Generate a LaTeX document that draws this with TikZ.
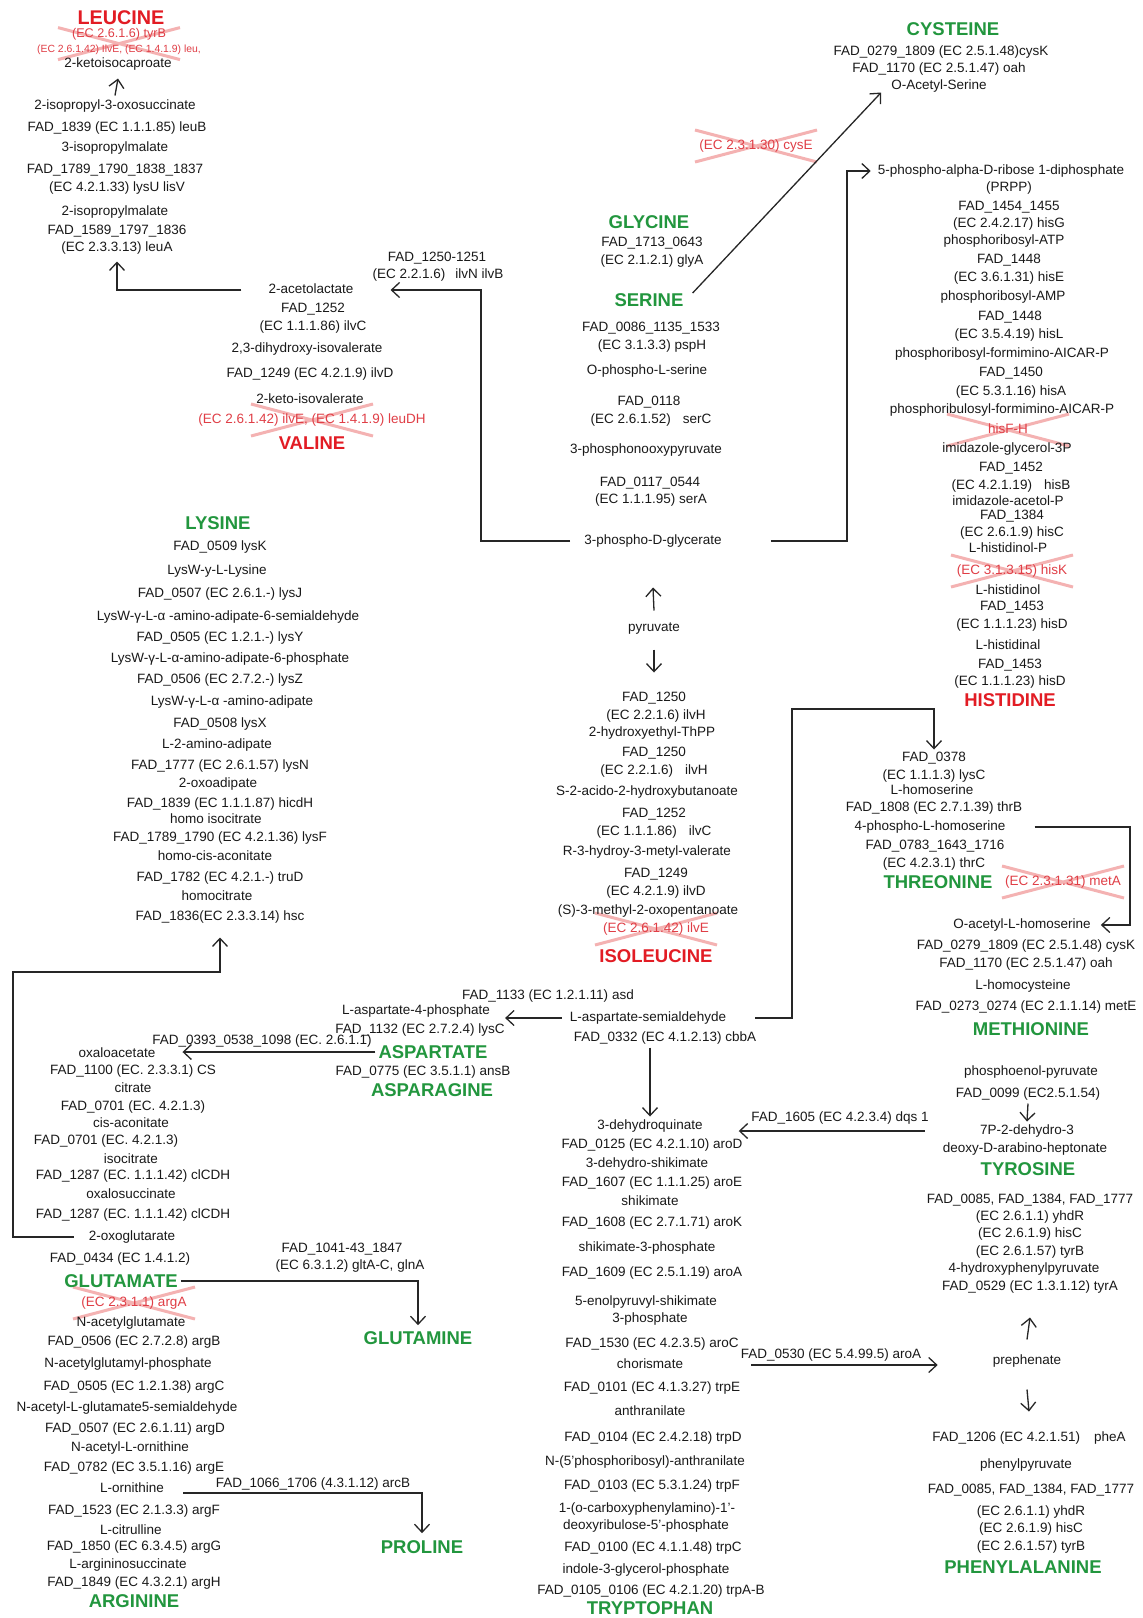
\documentclass[tikz,border=0pt]{standalone}
\usepackage{fontspec}
\setmainfont{Liberation Sans}
\usetikzlibrary{arrows.meta,backgrounds,calc}

\definecolor{aagreen}{RGB}{34,150,62}
\definecolor{aared}{RGB}{226,28,36}
\definecolor{ecred}{RGB}{224,62,70}
\definecolor{xpink}{RGB}{244,178,178}

\tikzset{
  lbl/.style={inner sep=0pt, text height=9.7pt, text depth=2.9pt,
    font=\fontsize{13.5}{15}\selectfont, text=black!90},
  aa/.style={inner sep=0pt, text height=13.3pt, text depth=0pt,
    font=\fontsize{18.5}{20}\selectfont\bfseries, text=aagreen},
  aalost/.style={aa, text=aared},
  eclost/.style={lbl, text=ecred},
  ecsmall/.style={eclost, text height=7.6pt, text depth=2.2pt,
    font=\fontsize{10.4}{12}\selectfont},
  arr/.style={-{Straight Barb[length=8pt,width=15pt]}, line width=1.3pt, black!85},
  xline/.style={xpink, line width=3pt}
}
% pink cross over a missing enzyme
\newcommand{\xout}[1]{\draw[xline] ([shift={(-61pt,-16pt)}]#1) -- ([shift={(61pt,16pt)}]#1)
  ([shift={(-61pt,16pt)}]#1) -- ([shift={(61pt,-16pt)}]#1);}

\begin{document}
\begin{tikzpicture}[x=1pt,y=-1pt]
    \useasboundingbox (0,0) rectangle (1143,1618);

    % Leucine branch
    \node[aalost, font=\fontsize{19.8}{21}\selectfont\bfseries] (leu) at (121,18) {LEUCINE};
    \node[eclost, font=\fontsize{12.6}{14}\selectfont] (leuTyrB) at (119,34) {(EC 2.6.1.6) tyrB};
    \node[ecsmall] (leuIlvE) at (119,50) {(EC 2.6.1.42) IlvE, (EC 1.4.1.9) leu,};
    \node[lbl] (kic) at (118,64) {2-ketoisocaproate};
    \node[lbl] (ipos) at (115,106) {2-isopropyl-3-oxosuccinate};
    \node[lbl] (leuB) at (117,128) {FAD\_1839 (EC 1.1.1.85) leuB};
    \node[lbl] (ipm3) at (115,148) {3-isopropylmalate};
    \node[lbl] (lysU1) at (115,170) {FAD\_1789\_1790\_1838\_1837};
    \node[lbl] (lysU2) at (117,188) {(EC 4.2.1.33) lysU lisV};
    \node[lbl] (ipm2) at (115,212) {2-isopropylmalate};
    \node[lbl] (leuA1) at (117,231) {FAD\_1589\_1797\_1836};
    \node[lbl] (leuA2) at (117,248) {(EC 2.3.3.13) leuA};

    % Valine branch
    \node[lbl] (ilvNB1) at (437,258) {FAD\_1250-1251};
    \node[lbl] (ilvNB2) at (438,275) {(EC 2.2.1.6)\hspace{10pt}ilvN ilvB};
    \node[lbl] (aceto) at (311,290) {2-acetolactate};
    \node[lbl] (ilvC1) at (313,309) {FAD\_1252};
    \node[lbl] (ilvC2) at (313,327) {(EC 1.1.1.86) ilvC};
    \node[lbl] (dhiv) at (307,349) {2,3-dihydroxy-isovalerate};
    \node[lbl] (ilvD) at (310,374) {FAD\_1249 (EC 4.2.1.9) ilvD};
    \node[lbl] (kiv) at (310,400) {2-keto-isovalerate};
    \node[eclost] (valEC) at (312,420) {(EC 2.6.1.42) ilvE, (EC 1.4.1.9) leuDH};
    \node[aalost] (val) at (312,443) {VALINE};

    % Glycine and serine
    \node[aa] (gly) at (649,222) {GLYCINE};
    \node[lbl] (glyA1) at (652,243) {FAD\_1713\_0643};
    \node[lbl] (glyA2) at (652,261) {(EC 2.1.2.1) glyA};
    \node[aa] (ser) at (649,300) {SERINE};
    \node[lbl] (pspH1) at (651,328) {FAD\_0086\_1135\_1533};
    \node[lbl] (pspH2) at (652,346) {(EC 3.1.3.3) pspH};
    \node[lbl] (pser) at (647,371) {O-phospho-L-serine};
    \node[lbl] (serC1) at (649,402) {FAD\_0118};
    \node[lbl] (serC2) at (651,420) {(EC 2.6.1.52)\hspace{12pt}serC};
    \node[lbl] (hpyr) at (646,450) {3-phosphonooxypyruvate};
    \node[lbl] (serA1) at (650,483) {FAD\_0117\_0544};
    \node[lbl] (serA2) at (651,500) {(EC 1.1.1.95) serA};
    \node[lbl] (pgly) at (653,541) {3-phospho-D-glycerate};
    \node[lbl] (pyr) at (654,628) {pyruvate};

    % Cysteine
    \node[aa] (cys) at (953,29) {CYSTEINE};
    \node[lbl] (cysK) at (941,52) {FAD\_0279\_1809 (EC 2.5.1.48)cysK};
    \node[lbl] (oah) at (939,69) {FAD\_1170 (EC 2.5.1.47) oah};
    \node[lbl] (oacs) at (939,86) {O-Acetyl-Serine};
    \node[eclost] (cysE) at (756,146) {(EC 2.3.1.30) cysE};

    % Histidine branch
    \node[lbl] (prpp1) at (1001,171) {5-phospho-alpha-D-ribose 1-diphosphate};
    \node[lbl] (prpp2) at (1009,188) {(PRPP)};
    \node[lbl] (hisG1) at (1009,207) {FAD\_1454\_1455};
    \node[lbl] (hisG2) at (1009,224) {(EC 2.4.2.17) hisG};
    \node[lbl] (pratp) at (1004,241) {phosphoribosyl-ATP};
    \node[lbl] (hisE1) at (1009,260) {FAD\_1448};
    \node[lbl] (hisE2) at (1009,278) {(EC 3.6.1.31) hisE};
    \node[lbl] (pramp) at (1003,297) {phosphoribosyl-AMP};
    \node[lbl] (hisL1) at (1010,317) {FAD\_1448};
    \node[lbl] (hisL2) at (1009,335) {(EC 3.5.4.19) hisL};
    \node[lbl] (proaicar) at (1002,354) {phosphoribosyl-formimino-AICAR-P};
    \node[lbl] (hisA1) at (1011,373) {FAD\_1450};
    \node[lbl] (hisA2) at (1011,392) {(EC 5.3.1.16) hisA};
    \node[lbl] (prulaicar) at (1002,410) {phosphoribulosyl-formimino-AICAR-P};
    \node[eclost] (hisFH) at (1008,430) {hisF-H};
    \node[lbl] (igp) at (1007,449) {imidazole-glycerol-3P};
    \node[lbl] (hisB1) at (1011,468) {FAD\_1452};
    \node[lbl] (hisB2) at (1011,486) {(EC 4.2.1.19)\hspace{12pt}hisB};
    \node[lbl] (iap) at (1008,502) {imidazole-acetol-P};
    \node[lbl] (hisC1) at (1012,516) {FAD\_1384};
    \node[lbl] (hisC2) at (1012,533) {(EC 2.6.1.9) hisC};
    \node[lbl] (hlp) at (1008,549) {L-histidinol-P};
    \node[eclost] (hisK) at (1012,571) {(EC 3.1.3.15) hisK};
    \node[lbl] (hol) at (1008,591) {L-histidinol};
    \node[lbl] (hisD1) at (1012,607) {FAD\_1453};
    \node[lbl] (hisD2) at (1012,625) {(EC 1.1.1.23) hisD};
    \node[lbl] (hal) at (1008,646) {L-histidinal};
    \node[lbl] (hisD3) at (1010,665) {FAD\_1453};
    \node[lbl] (hisD4) at (1010,682) {(EC 1.1.1.23) hisD};
    \node[aalost] (his) at (1010,700) {HISTIDINE};

    % Threonine and methionine
    \node[lbl] (hser1) at (934,758) {FAD\_0378};
    \node[lbl] (hser2) at (934,776) {(EC 1.1.1.3) lysC};
    \node[lbl] (hser) at (932,791) {L-homoserine};
    \node[lbl] (thrB) at (934,808) {FAD\_1808 (EC 2.7.1.39) thrB};
    \node[lbl] (phser) at (930,827) {4-phospho-L-homoserine};
    \node[lbl] (thrC1) at (935,846) {FAD\_0783\_1643\_1716};
    \node[lbl] (thrC2) at (934,864) {(EC 4.2.3.1) thrC};
    \node[aa] (thr) at (938,882) {THREONINE};
    \node[eclost] (metA) at (1063,882) {(EC 2.3.1.31) metA};
    \node[lbl] (oalh) at (1022,925) {O-acetyl-L-homoserine};
    \node[lbl] (metcysK) at (1026,946) {FAD\_0279\_1809 (EC 2.5.1.48) cysK};
    \node[lbl] (metoah) at (1026,964) {FAD\_1170 (EC 2.5.1.47) oah};
    \node[lbl] (hcys) at (1023,986) {L-homocysteine};
    \node[lbl] (metE) at (1026,1007) {FAD\_0273\_0274 (EC 2.1.1.14) metE};
    \node[aa] (met) at (1031,1029) {METHIONINE};

    % Isoleucine branch
    \node[lbl] (ilvH1) at (654,698) {FAD\_1250};
    \node[lbl] (ilvH2) at (656,716) {(EC 2.2.1.6) ilvH};
    \node[lbl] (hethpp) at (652,733) {2-hydroxyethyl-ThPP};
    \node[lbl] (ilvH3) at (654,753) {FAD\_1250};
    \node[lbl] (ilvH4) at (654,771) {(EC 2.2.1.6)\hspace{12pt}ilvH};
    \node[lbl] (s2a) at (647,792) {S-2-acido-2-hydroxybutanoate};
    \node[lbl] (ilvC3) at (654,814) {FAD\_1252};
    \node[lbl] (ilvC4) at (654,832) {(EC 1.1.1.86)\hspace{12pt}ilvC};
    \node[lbl] (r3h) at (647,852) {R-3-hydroy-3-metyl-valerate};
    \node[lbl] (ilvD1) at (656,874) {FAD\_1249};
    \node[lbl] (ilvD2) at (656,892) {(EC 4.2.1.9) ilvD};
    \node[lbl] (s3m) at (648,911) {(S)-3-methyl-2-oxopentanoate};
    \node[eclost] (ileEC) at (656,929) {(EC 2.6.1.42) ilvE};
    \node[aalost] (ile) at (656,956) {ISOLEUCINE};

    % Aspartate family
    \node[lbl] (asd) at (548,996) {FAD\_1133 (EC 1.2.1.11)\hspace{4pt}asd};
    \node[lbl] (asp4p) at (416,1011) {L-aspartate-4-phosphate};
    \node[lbl] (asa) at (648,1018) {L-aspartate-semialdehyde};
    \node[lbl] (lysC) at (420,1030) {FAD\_1132 (EC 2.7.2.4) lysC};
    \node[lbl] (cbbA) at (665,1038) {FAD\_0332 (EC 4.1.2.13) cbbA};
    \node[lbl] (aat) at (262,1041) {FAD\_0393\_0538\_1098 (EC. 2.6.1.1)};
    \node[aa] (asp) at (433,1052) {ASPARTATE};
    \node[lbl] (ansB) at (423,1072) {FAD\_0775 (EC 3.5.1.1) ansB};
    \node[aa] (asn) at (432,1090) {ASPARAGINE};

    % Lysine branch
    \node[aa] (lys) at (218,523) {LYSINE};
    \node[lbl] (lysK) at (220,547) {FAD\_0509 lysK};
    \node[lbl] (lyswlys) at (217,571) {LysW-y-L-Lysine};
    \node[lbl] (lysJ) at (220,594) {FAD\_0507 (EC 2.6.1.-) lysJ};
    \node[lbl] (aasa) at (228,617) {LysW-γ-L-α -amino-adipate-6-semialdehyde};
    \node[lbl] (lysY) at (220,638) {FAD\_0505 (EC 1.2.1.-) lysY};
    \node[lbl] (aap) at (230,659) {LysW-γ-L-α-amino-adipate-6-phosphate};
    \node[lbl] (lysZ) at (220,680) {FAD\_0506 (EC 2.7.2.-) lysZ};
    \node[lbl] (aaa) at (232,702) {LysW-γ-L-α -amino-adipate};
    \node[lbl] (lysX) at (220,724) {FAD\_0508 lysX};
    \node[lbl] (l2aa) at (217,745) {L-2-amino-adipate};
    \node[lbl] (lysN) at (220,766) {FAD\_1777 (EC 2.6.1.57) lysN};
    \node[lbl] (oxad) at (218,784) {2-oxoadipate};
    \node[lbl] (hicdH) at (220,804) {FAD\_1839 (EC 1.1.1.87) hicdH};
    \node[lbl] (hic) at (216,820) {homo isocitrate};
    \node[lbl] (lysF) at (220,838) {FAD\_1789\_1790 (EC 4.2.1.36) lysF};
    \node[lbl] (hca) at (215,857) {homo-cis-aconitate};
    \node[lbl] (truD) at (220,878) {FAD\_1782 (EC 4.2.1.-) truD};
    \node[lbl] (hcit) at (217,897) {homocitrate};
    \node[lbl] (hsc) at (220,917) {FAD\_1836(EC 2.3.3.14) hsc};

    % TCA part, glutamate, glutamine
    \node[lbl] (oxa) at (117,1054) {oxaloacetate};
    \node[lbl] (cs) at (133,1071) {FAD\_1100 (EC. 2.3.3.1) CS};
    \node[lbl] (cit) at (133,1089) {citrate};
    \node[lbl] (acn1) at (133,1107) {FAD\_0701 (EC. 4.2.1.3)};
    \node[lbl] (cisacn) at (131,1124) {cis-aconitate};
    \node[lbl] (acn2) at (106,1141) {FAD\_0701 (EC. 4.2.1.3)};
    \node[lbl] (icit) at (131,1160) {isocitrate};
    \node[lbl] (icd1) at (133,1176) {FAD\_1287 (EC. 1.1.1.42) clCDH};
    \node[lbl] (osuc) at (131,1195) {oxalosuccinate};
    \node[lbl] (icd2) at (133,1215) {FAD\_1287 (EC. 1.1.1.42) clCDH};
    \node[lbl] (ogl) at (132,1237) {2-oxoglutarate};
    \node[lbl] (gdh) at (120,1259) {FAD\_0434 (EC 1.4.1.2)};
    \node[aa] (glu) at (121,1281) {GLUTAMATE};
    \node[lbl] (gltA1) at (342,1249) {FAD\_1041-43\_1847};
    \node[lbl] (gltA2) at (350,1266) {(EC 6.3.1.2) gltA-C, glnA};
    \node[aa] (gln) at (418,1338) {GLUTAMINE};

    % Arginine and proline
    \node[eclost] (argA) at (134,1303) {(EC 2.3.1.1) argA};
    \node[lbl] (nag) at (131,1323) {N-acetylglutamate};
    \node[lbl] (argB) at (134,1342) {FAD\_0506 (EC 2.7.2.8) argB};
    \node[lbl] (nagp) at (128,1364) {N-acetylglutamyl-phosphate};
    \node[lbl] (argC) at (134,1387) {FAD\_0505 (EC 1.2.1.38) argC};
    \node[lbl] (nags) at (127,1408) {N-acetyl-L-glutamate5-semialdehyde};
    \node[lbl] (argD) at (135,1429) {FAD\_0507 (EC 2.6.1.11) argD};
    \node[lbl] (nao) at (130,1448) {N-acetyl-L-ornithine};
    \node[lbl] (argE) at (134,1468) {FAD\_0782 (EC 3.5.1.16) argE};
    \node[lbl] (orn) at (132,1489) {L-ornithine};
    \node[lbl] (arcB) at (313,1484) {FAD\_1066\_1706 (4.3.1.12) arcB};
    \node[aa] (pro) at (422,1547) {PROLINE};
    \node[lbl] (argF) at (134,1511) {FAD\_1523 (EC 2.1.3.3) argF};
    \node[lbl] (citr) at (131,1531) {L-citrulline};
    \node[lbl] (argG) at (134,1547) {FAD\_1850 (EC 6.3.4.5) argG};
    \node[lbl] (asuc) at (128,1565) {L-argininosuccinate};
    \node[lbl] (argH) at (134,1583) {FAD\_1849 (EC 4.3.2.1) argH};
    \node[aa] (arg) at (134,1601) {ARGININE};

    % Shikimate and tryptophan
    \node[lbl] (dhq) at (650,1126) {3-dehydroquinate};
    \node[lbl] (aroD) at (652,1145) {FAD\_0125 (EC 4.2.1.10) aroD};
    \node[lbl] (dhs) at (647,1164) {3-dehydro-shikimate};
    \node[lbl] (aroE) at (652,1183) {FAD\_1607 (EC 1.1.1.25) aroE};
    \node[lbl] (shik) at (650,1202) {shikimate};
    \node[lbl] (aroK) at (652,1223) {FAD\_1608 (EC 2.7.1.71) aroK};
    \node[lbl] (s3p) at (647,1248) {shikimate-3-phosphate};
    \node[lbl] (aroA) at (652,1273) {FAD\_1609 (EC 2.5.1.19) aroA};
    \node[lbl] (eps1) at (646,1302) {5-enolpyruvyl-shikimate};
    \node[lbl] (eps2) at (650,1319) {3-phosphate};
    \node[lbl] (aroC) at (652,1344) {FAD\_1530 (EC 4.2.3.5) aroC};
    \node[lbl] (chor) at (650,1365) {chorismate};
    \node[lbl] (trpE) at (652,1388) {FAD\_0101 (EC 4.1.3.27) trpE};
    \node[lbl] (anth) at (650,1412) {anthranilate};
    \node[lbl] (trpD) at (653,1438) {FAD\_0104 (EC 2.4.2.18) trpD};
    \node[lbl] (pran) at (645,1462) {N-(5'phosphoribosyl)-anthranilate};
    \node[lbl] (trpF) at (652,1486) {FAD\_0103 (EC 5.3.1.24) trpF};
    \node[lbl] (cdrp1) at (647,1509) {1-(o-carboxyphenylamino)-1'-};
    \node[lbl] (cdrp2) at (646,1526) {deoxyribulose-5'-phosphate};
    \node[lbl] (trpC) at (653,1548) {FAD\_0100 (EC 4.1.1.48) trpC};
    \node[lbl] (igph) at (646,1570) {indole-3-glycerol-phosphate};
    \node[lbl] (trpAB) at (651,1591) {FAD\_0105\_0106 (EC 4.2.1.20) trpA-B};
    \node[aa] (trp) at (650,1608) {TRYPTOPHAN};

    % Tyrosine and phenylalanine
    \node[lbl] (pep) at (1031,1072) {phosphoenol-pyruvate};
    \node[lbl] (aroG) at (1028,1094) {FAD\_0099 (EC2.5.1.54)};
    \node[lbl] (dahp1) at (1027,1131) {7P-2-dehydro-3};
    \node[lbl] (dahp2) at (1025,1149) {deoxy-D-arabino-heptonate};
    \node[aa] (tyr) at (1028,1169) {TYROSINE};
    \node[lbl] (tyrB1) at (1030,1200) {FAD\_0085, FAD\_1384, FAD\_1777};
    \node[lbl] (tyrB2) at (1030,1217) {(EC 2.6.1.1) yhdR};
    \node[lbl] (tyrB3) at (1030,1234) {(EC 2.6.1.9) hisC};
    \node[lbl] (tyrB4) at (1030,1252) {(EC 2.6.1.57) tyrB};
    \node[lbl] (hpp) at (1024,1269) {4-hydroxyphenylpyruvate};
    \node[lbl] (tyrA) at (1030,1287) {FAD\_0529 (EC 1.3.1.12) tyrA};
    \node[lbl] (dqs) at (840,1118) {FAD\_1605 (EC 4.2.3.4) dqs 1};
    \node[lbl] (aroAlbl) at (831,1355) {FAD\_0530 (EC 5.4.99.5) aroA};
    \node[lbl] (preph) at (1027,1361) {prephenate};
    \node[lbl] (pheA) at (1029,1438) {FAD\_1206 (EC 4.2.1.51)\hspace{14pt}pheA};
    \node[lbl] (ppyr) at (1026,1465) {phenylpyruvate};
    \node[lbl] (pheB1) at (1031,1490) {FAD\_0085, FAD\_1384, FAD\_1777};
    \node[lbl] (pheB2) at (1031,1512) {(EC 2.6.1.1) yhdR};
    \node[lbl] (pheB3) at (1031,1529) {(EC 2.6.1.9) hisC};
    \node[lbl] (pheB4) at (1031,1547) {(EC 2.6.1.57) tyrB};
    \node[aa] (phe) at (1023,1567) {PHENYLALANINE};

    % Bends of the long connectors
    \coordinate (ilvbend) at (481,290);
    \coordinate (hisbend) at (847,171);
    \coordinate (thrbend) at (792,709);
    \coordinate (metbend) at (1130,830);
    \coordinate (lysbend) at (13,972);

    % Connectors
    \draw[arr] ([yshift=4pt]ipos.north) -- ([yshift=-8pt]kic.south);
    \draw[arr] ([xshift=-27pt]aceto.west) -| ([yshift=-7pt]leuA2.south);
    \draw[arr] ([xshift=-14pt]pgly.west) -| (ilvbend) -- ([xshift=37pt]aceto.east);
    \draw[arr] ([shift={(9pt,7pt)}]ser.east) -- ([xshift=-10pt]oacs.south west);
    \draw[arr] ([xshift=49pt]pgly.east) -| (hisbend) -- ([xshift=-7pt]prpp1.west);
    \draw[arr] ([yshift=11pt]pyr.north) -- ([yshift=-40pt]pgly.south);
    \draw[arr] ([yshift=-15pt]pyr.south) -- ([yshift=19pt]ilvH1.north);
    \draw[arr] ([xshift=-8pt]asa.west) -- ([xshift=15pt]asp4p.east |- asa.west);
    \draw[arr] ([xshift=29pt]asa.east) -| (thrbend) -| ([yshift=2pt]hser1.north);
    \draw[arr] ([xshift=29pt]phser.east) -| (metbend) |- ([xshift=10pt]oalh.east);
    \draw[arr] ([yshift=-3pt]cbbA.south -| dhq.north) -- ([yshift=3pt]dhq.north);
    \draw[arr] ([xshift=-3pt]asp.west) -- ([xshift=27pt]oxa.east |- asp.west);
    \draw[arr] ([xshift=-15pt]ogl.west) -| (lysbend) -| ([yshift=-14pt]hsc.south);
    \draw[arr] ([xshift=3pt]glu.east) -| ([yshift=6pt]gln.north);
    \draw[arr] ([xshift=19pt,yshift=-4pt]orn.east) -| ([yshift=7pt]pro.north);
    \draw[arr] ([xshift=-55pt]dahp1.west) -- ([xshift=36pt]dhq.east |- dahp1.west);
    \draw[arr] ([yshift=-3pt]aroG.south) -- ([yshift=3pt]dahp1.north);
    \draw[arr] ([xshift=68pt]chor.east) -- ([xshift=-55pt]preph.west |- chor.east);
    \draw[arr] ([yshift=15pt]preph.north) -- ([yshift=-24pt]tyrA.south);
    \draw[arr] ([yshift=-22pt]preph.south) -- ([yshift=20pt]pheA.north);

    % Crossed-out enzymes
    \begin{pgfonlayer}{background}
        \fill[white] (0,0) rectangle (1143,1618);
        \xout{$(leuTyrB.center)!0.6!(leuIlvE.center)$}
        \xout{cysE.center}
        \xout{valEC.center}
        \xout{ileEC.center}
        \xout{hisFH.center}
        \xout{hisK.center}
        \xout{metA.center}
        \xout{argA.center}
    \end{pgfonlayer}
\end{tikzpicture}
\end{document}
